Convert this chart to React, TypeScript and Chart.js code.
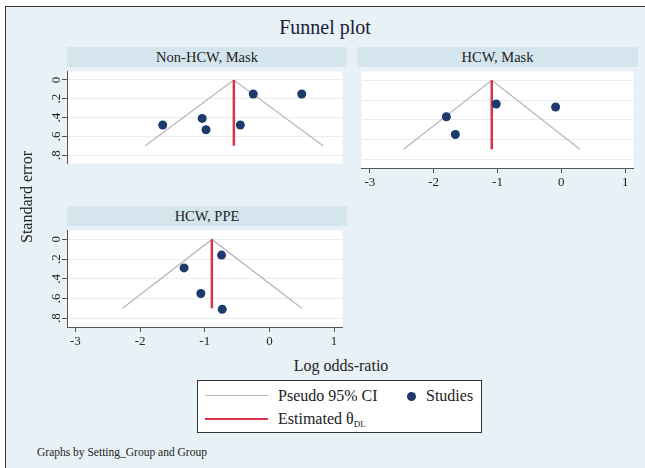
import React, { useEffect, useRef } from 'react';
import { Chart, registerables } from 'chart.js';

Chart.register(...registerables);

// ---------- data ----------
const xTicks = [-3, -2, -1, 0, 1];
const xTickLabels = ['-3', '-2', '-1', '0', '1'];
const yTicks = [0, 0.2, 0.4, 0.6, 0.8];
const yTickLabels = ['0', '.2', '.4', '.6', '.8'];

const panelTitles = ['Non-HCW, Mask', 'HCW, Mask', 'HCW, PPE'];

// studies (log odds-ratio, standard error)
const nonHcwMaskLogOR = [-1.65, -1.04, -0.98, -0.45, -0.25, 0.5];
const nonHcwMaskSE = [0.48, 0.41, 0.53, 0.48, 0.15, 0.15];
const hcwMaskLogOR = [-1.8, -1.66, -1.02, -0.09];
const hcwMaskSE = [0.37, 0.55, 0.24, 0.27];
const hcwPpeLogOR = [-0.74, -1.32, -1.06, -0.73];
const hcwPpeSE = [0.16, 0.29, 0.55, 0.71];

// pseudo 95% CI funnel: left foot, apex, right foot
const funnelNonHcwMaskX = [-1.92, -0.55, 0.83];
const funnelHcwMaskX = [-2.47, -1.09, 0.29];
const funnelHcwPpeX = [-2.27, -0.89, 0.5];
const funnelSE = [0.7, 0, 0.7];

// estimated theta (DL)
const thetaNonHcwMask = -0.55;
const thetaHcwMask = -1.09;
const thetaHcwPpe = -0.89;
const thetaLineSE = [0, 0.7];

const FONT = "'Liberation Serif', 'Times New Roman', serif";
const BG = '#e8f1f5';
const STRIP = '#d5e5ee';

type PanelProps = {
  title: string;
  plotLeft: number;
  plotTop: number;
  plotW: number;
  plotH: number;
  showY: boolean;
  showX: boolean;
  logOR: number[];
  se: number[];
  funnelX: number[];
  theta: number;
};

const Y_AXIS_W = 30;
const X_AXIS_H = 28;

function Panel(p: PanelProps) {
  const ref = useRef<HTMLCanvasElement | null>(null);
  const canvasW = p.plotW + (p.showY ? Y_AXIS_W : 0);
  const canvasH = p.plotH + (p.showX ? X_AXIS_H : 0);
  const canvasLeft = p.plotLeft - (p.showY ? Y_AXIS_W : 0);

  useEffect(() => {
    if (!ref.current) return;
    const whiteBg = {
      id: 'whiteBg',
      beforeDraw(chart: any) {
        const a = chart.chartArea;
        const ctx = chart.ctx;
        ctx.save();
        ctx.fillStyle = '#ffffff';
        ctx.fillRect(a.left, a.top, a.right - a.left, a.bottom - a.top);
        ctx.restore();
      },
    };
    const chart = new Chart(ref.current, {
      type: 'scatter',
      data: {
        datasets: [
          {
            label: 'Studies',
            data: p.logOR.map((x, i) => ({ x, y: p.se[i] })),
            pointRadius: 4.5,
            pointBackgroundColor: '#1c3a6b',
            pointBorderWidth: 0,
            showLine: false,
          },
          {
            label: 'Estimated',
            data: thetaLineSE.map((y) => ({ x: p.theta, y })),
            showLine: true,
            borderColor: '#d8334f',
            borderWidth: 2.5,
            pointRadius: 0,
          },
          {
            label: 'Pseudo 95% CI',
            data: p.funnelX.map((x, i) => ({ x, y: funnelSE[i] })),
            showLine: true,
            borderColor: '#b8b8b8',
            borderWidth: 1.3,
            pointRadius: 0,
          },
        ],
      },
      options: {
        responsive: false,
        animation: false,
        events: [],
        layout: { padding: 0 },
        plugins: { legend: { display: false }, tooltip: { enabled: false }, title: { display: false } },
        scales: {
          x: {
            type: 'linear',
            min: -3.13,
            max: 1.13,
            display: p.showX,
            afterBuildTicks: (s: any) => {
              s.ticks = xTicks.map((v) => ({ value: v }));
            },
            afterFit: (s: any) => {
              s.height = p.showX ? X_AXIS_H : 0;
              s.paddingLeft = 0;
              s.paddingRight = 0;
            },
            grid: {
              display: true,
              drawOnChartArea: false,
              drawTicks: true,
              tickLength: 5,
              tickColor: '#555',
            },
            border: { display: true, color: '#555', width: 1 },
            ticks: {
              autoSkip: false,
              maxRotation: 0,
              padding: 2,
              color: '#222',
              font: { family: FONT, size: 13 },
              callback: (_v: any, i: number) => xTickLabels[i],
            },
          },
          y: {
            type: 'linear',
            reverse: true,
            min: -0.09,
            max: 0.89,
            afterBuildTicks: (s: any) => {
              s.ticks = yTicks.map((v) => ({ value: v }));
            },
            afterFit: (s: any) => {
              s.width = p.showY ? Y_AXIS_W : 0;
              s.paddingTop = 0;
              s.paddingBottom = 0;
            },
            grid: {
              display: true,
              drawOnChartArea: true,
              color: '#e6edf1',
              drawTicks: p.showY,
              tickLength: 5,
              tickColor: '#555',
            },
            border: { display: p.showY, color: '#555', width: 1 },
            ticks: {
              display: p.showY,
              autoSkip: false,
              minRotation: 90,
              maxRotation: 90,
              crossAlign: 'center',
              padding: 1,
              color: '#222',
              font: { family: FONT, size: 13 },
              callback: (_v: any, i: number) => yTickLabels[i],
            },
          },
        },
      } as any,
      plugins: [whiteBg],
    });
    return () => chart.destroy();
  }, []);

  return (
    <>
      <div
        style={{
          position: 'absolute',
          left: p.plotLeft,
          top: p.plotTop - 20,
          width: p.plotW,
          height: 20,
          background: STRIP,
          textAlign: 'center',
          lineHeight: '20px',
          fontFamily: FONT,
          fontSize: 14.5,
          color: '#222',
        }}
      >
        {p.title}
      </div>
      <canvas
        ref={ref}
        width={canvasW}
        height={canvasH}
        style={{ position: 'absolute', left: canvasLeft, top: p.plotTop, width: canvasW, height: canvasH }}
      />
    </>
  );
}

export default function App() {
  return (
    <div
      style={{
        position: 'absolute',
        left: 0,
        top: 0,
        width: 645,
        height: 468,
        background: '#ffffff',
        overflow: 'hidden',
        fontFamily: FONT,
      }}
    >
      <div
        style={{
          position: 'absolute',
          left: 5,
          top: 6,
          width: 640,
          height: 462,
          background: BG,
          borderTop: '1.5px solid #333',
          borderLeft: '1.5px solid #333',
        }}
      />
      <div
        style={{
          position: 'absolute',
          left: 5,
          width: 640,
          top: 14,
          lineHeight: '26px',
          textAlign: 'center',
          fontSize: 20,
          color: '#1c1c3c',
        }}
      >
        Funnel plot
      </div>

      <Panel
        title={panelTitles[0]}
        plotLeft={67}
        plotTop={67}
        plotW={280}
        plotH={101}
        showY={true}
        showX={false}
        logOR={nonHcwMaskLogOR}
        se={nonHcwMaskSE}
        funnelX={funnelNonHcwMaskX}
        theta={thetaNonHcwMask}
      />
      <Panel
        title={panelTitles[1]}
        plotLeft={357}
        plotTop={67}
        plotW={281}
        plotH={101}
        showY={false}
        showX={true}
        logOR={hcwMaskLogOR}
        se={hcwMaskSE}
        funnelX={funnelHcwMaskX}
        theta={thetaHcwMask}
      />
      <Panel
        title={panelTitles[2]}
        plotLeft={67}
        plotTop={226}
        plotW={280}
        plotH={101}
        showY={true}
        showX={true}
        logOR={hcwPpeLogOR}
        se={hcwPpeSE}
        funnelX={funnelHcwPpeX}
        theta={thetaHcwPpe}
      />

      <div
        style={{
          position: 'absolute',
          left: 27 - 100,
          top: 197 - 11,
          width: 200,
          height: 22,
          lineHeight: '22px',
          textAlign: 'center',
          fontSize: 16,
          color: '#222',
          transform: 'rotate(-90deg)',
        }}
      >
        Standard error
      </div>
      <div
        style={{
          position: 'absolute',
          left: 241,
          width: 200,
          top: 355,
          lineHeight: '22px',
          textAlign: 'center',
          fontSize: 16,
          color: '#222',
        }}
      >
        Log odds-ratio
      </div>

      <div
        style={{
          position: 'absolute',
          left: 197,
          top: 380,
          width: 283,
          height: 51,
          background: '#ffffff',
          border: '1.5px solid #333',
          fontSize: 16,
          color: '#222',
        }}
      >
        <div style={{ position: 'absolute', left: 7, top: 14, width: 63, height: 0, borderTop: '1.5px solid #b8b8b8' }} />
        <div style={{ position: 'absolute', left: 80, top: 4, lineHeight: '22px', whiteSpace: 'nowrap' }}>Pseudo 95% CI</div>
        <div
          style={{
            position: 'absolute',
            left: 208.5,
            top: 10.5,
            width: 9,
            height: 9,
            borderRadius: '50%',
            background: '#1c3a6b',
          }}
        />
        <div style={{ position: 'absolute', left: 228, top: 4, lineHeight: '22px', whiteSpace: 'nowrap' }}>Studies</div>
        <div style={{ position: 'absolute', left: 7, top: 37, width: 63, height: 0, borderTop: '2.5px solid #d8334f' }} />
        <div style={{ position: 'absolute', left: 80, top: 27, lineHeight: '22px', whiteSpace: 'nowrap' }}>
          Estimated θ<sub style={{ fontSize: 9, verticalAlign: -3 }}>DL</sub>
        </div>
      </div>

      <div
        style={{
          position: 'absolute',
          left: 37,
          top: 444,
          lineHeight: '16px',
          fontSize: 11.5,
          color: '#222',
          whiteSpace: 'nowrap',
        }}
      >
        Graphs by Setting_Group and Group
      </div>
    </div>
  );
}
